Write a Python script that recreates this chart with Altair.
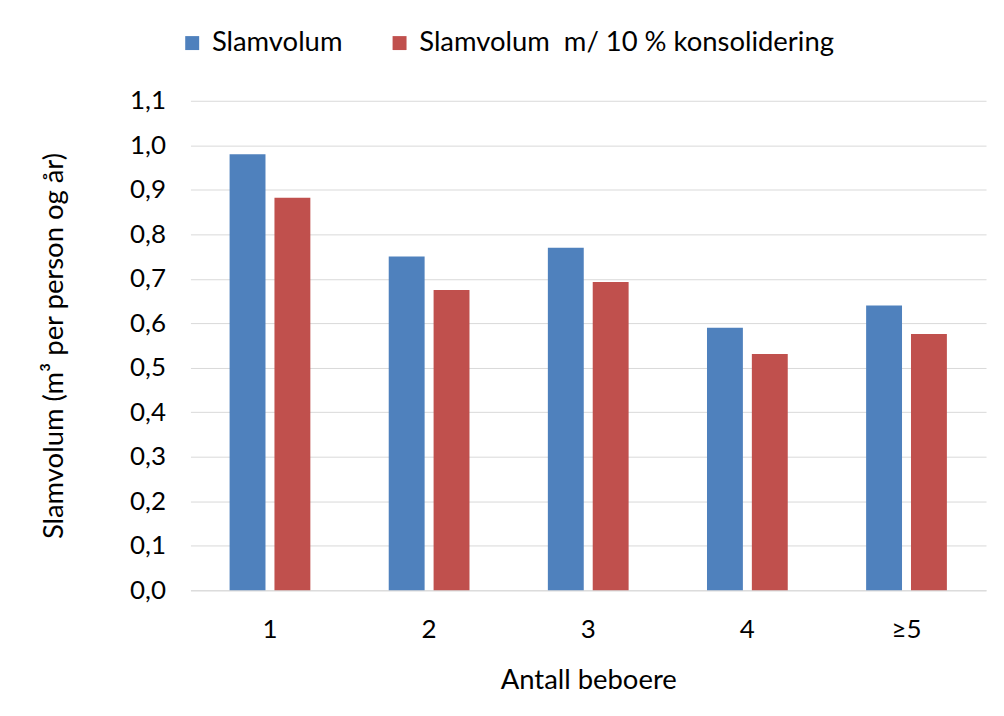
import altair as alt
import pandas as pd

categories = ["1", "2", "3", "4", "≥5"]
slamvolum = [0.98, 0.75, 0.77, 0.59, 0.64]
slamvolum_kons = [0.882, 0.675, 0.693, 0.531, 0.576]
series = ["Slamvolum", "Slamvolum\u00a0 m/ 10 % konsolidering"]
colors = ["#4F81BD", "#C0504D"]
y_ticks = [0.0, 0.1, 0.2, 0.3, 0.4, 0.5, 0.6, 0.7, 0.8, 0.9, 1.0, 1.1]

rows = []
for c, a, b in zip(categories, slamvolum, slamvolum_kons):
    rows.append({"Antall": c, "Serie": series[0], "Verdi": a})
    rows.append({"Antall": c, "Serie": series[1], "Verdi": b})
df = pd.DataFrame(rows)

FONT = "Lato"
GRID = "#D9D9D9"

chart = alt.Chart(df).mark_bar().encode(
    x=alt.X(
        "Antall:N",
        sort=categories,
        scale=alt.Scale(paddingInner=0.4925, paddingOuter=0.246),
        axis=alt.Axis(
            title="Antall beboere",
            labelAngle=0,
            ticks=False,
            grid=False,
            domainColor=GRID,
            domainWidth=1,
            labelPadding=26,
            labelFontSize=26,
            titlePadding=25,
        ),
    ),
    xOffset=alt.XOffset("Serie:N", sort=series, scale=alt.Scale(paddingInner=0.2)),
    y=alt.Y(
        "Verdi:Q",
        scale=alt.Scale(domain=[0, 1.1], nice=False),
        axis=alt.Axis(
            title="Slamvolum (m³ per person og år)",
            values=y_ticks,
            labelExpr="replace(format(datum.value, '.1f'), '.', ',')",
            ticks=False,
            domain=False,
            gridColor=GRID,
            gridWidth=1,
            labelPadding=25,
            labelFontSize=26,
            titlePadding=61,
        ),
    ),
    color=alt.Color(
        "Serie:N",
        sort=series,
        scale=alt.Scale(domain=series, range=colors),
        legend=alt.Legend(
            title=None,
            orient="none",
            legendX=-12,
            legendY=-72,
            direction="horizontal",
            symbolType="square",
            symbolSize=196,
            symbolStrokeWidth=0,
            labelFontSize=27.5,
            labelFont=FONT,
            labelColor="#000000",
            labelOffset=6,
            columnPadding=43,
            labelLimit=800,
        ),
    ),
).properties(
    width=798,
    height=491,
    padding={"left": 32, "top": 20, "right": 10, "bottom": 10},
).configure_view(
    stroke=None
).configure_axis(
    labelFont=FONT,
    titleFont=FONT,
    titleFontSize=27.5,
    titleFontWeight="normal",
    labelColor="#000000",
    titleColor="#000000",
)

chart.save("out.html", embed_options={"renderer": "svg", "actions": False})
